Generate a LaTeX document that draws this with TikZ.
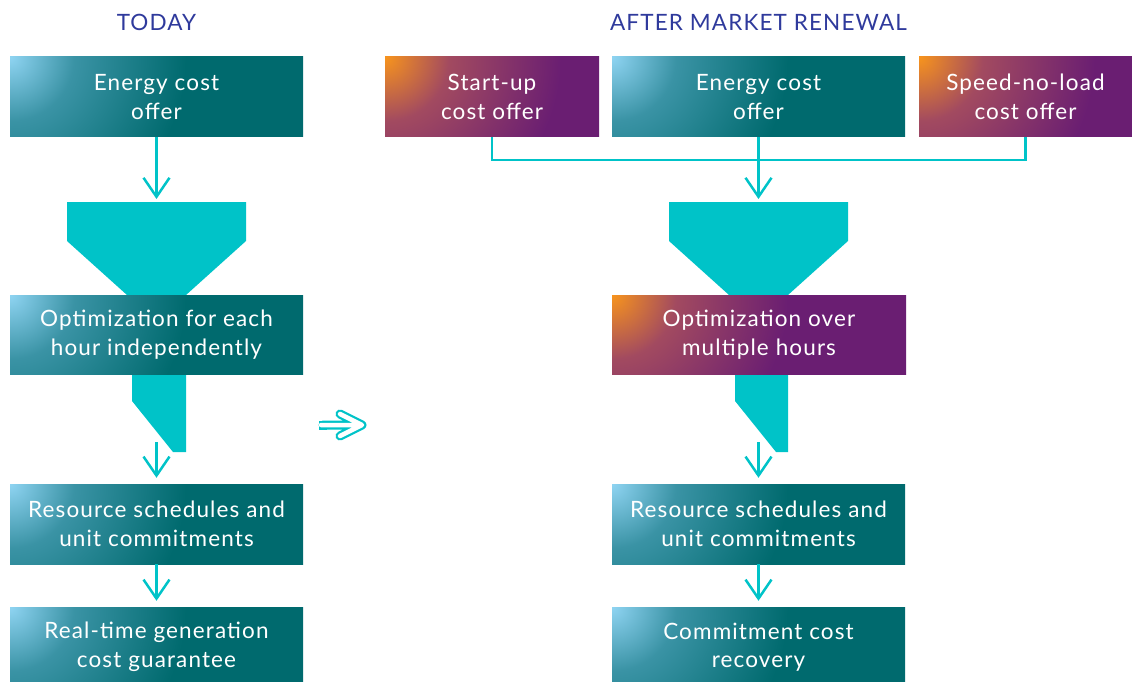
\documentclass[tikz,border=0pt]{standalone}
\usepackage{fontspec}
\setmainfont{Lato}[LetterSpace=5]
\usetikzlibrary{arrows.meta}
\definecolor{tlight}{HTML}{8FD4F2}
\definecolor{tmid}{HTML}{3A93A5}
\definecolor{tdark}{HTML}{006A6E}
\definecolor{porange}{HTML}{F7941D}
\definecolor{pmid}{HTML}{A24A60}
\definecolor{ppurple}{HTML}{6A1E72}
\definecolor{fcyan}{HTML}{00C3C8}
\definecolor{hblue}{HTML}{2F3A9C}
\pgfdeclareradialshading{tealglow}{\pgfpoint{0bp}{0bp}}{color(0bp)=(tlight); color(4bp)=(tmid); color(11bp)=(tdark); color(80bp)=(tdark)}
\pgfdeclareradialshading{purpleglow}{\pgfpoint{0bp}{0bp}}{color(0bp)=(porange); color(4bp)=(pmid); color(11bp)=(ppurple); color(80bp)=(ppurple)}
\begin{document}
\begin{tikzpicture}[x=1pt,y=-1pt,
  box/.style={rectangle, minimum height=80pt, inner sep=0pt, align=center, text=white,
    font=\fontsize{22.5}{28.5}\selectfont},
  tealbox/.style={box, minimum width=293pt, path picture={\shade[shading=tealglow] ([shift={(-400,-400)}]path picture bounding box.north west) rectangle ([shift={(400,400)}]path picture bounding box.north west);}},
  purplebox/.style={box, path picture={\shade[shading=purpleglow] ([shift={(-400,-400)}]path picture bounding box.north west) rectangle ([shift={(400,400)}]path picture bounding box.north west);}},
  hdr/.style={text=hblue, font=\fontsize{22.5}{26}\selectfont, inner sep=0pt},
  funnel/.style={fill=fcyan, draw=none},
  flow/.style={draw=fcyan, line width=2.5pt, -{Straight Barb[length=19pt,width=26pt,line width=2.5pt]}},
  link/.style={draw=fcyan, line width=2.5pt}]
\useasboundingbox (0,0) rectangle (1132,682);
% headers
\node[hdr] (today) at (156.5,22) {TODAY};
\node[hdr] (after) at (758.5,22) {AFTER MARKET RENEWAL};
% funnels (drawn behind boxes)
\fill[funnel] (67,202) -- (246,202) -- (246,241) -- (186,295) -- (186,300) -- (127,300) -- (127,295) -- (67,241) -- cycle;
\fill[funnel] (132,370) -- (186,370) -- (186,452) -- (173,452) -- (132,401) -- cycle;
\fill[funnel] (669,202) -- (848,202) -- (848,241) -- (788,295) -- (788,300) -- (729,300) -- (729,295) -- (669,241) -- cycle;
\fill[funnel] (735,370) -- (788,370) -- (788,452) -- (776,452) -- (735,401) -- cycle;
\coordinate (ftopL) at (156.5,202);
\coordinate (ftopR) at (758.5,202);
\coordinate (spoutL) at (156.5,442);
\coordinate (spoutR) at (758.5,442);
% left column
\node[tealbox] (energyL) at (156.5,97) {Energy cost\\offer};
\node[tealbox, minimum height=79pt] (optL) at (156.5,334.5) {Optimization for each\\hour independently};
\node[tealbox] (resL) at (156.5,524) {Resource schedules and\\unit commitments};
\node[tealbox] (rtL) at (156.5,647) {Real-time generation\\cost guarantee};
% right column
\node[purplebox, minimum width=214pt] (startR) at (492,97) {Start-up\\cost offer};
\node[tealbox] (energyR) at (758.5,97) {Energy cost\\offer};
\node[purplebox, minimum width=213pt] (speedR) at (1025.5,97) {Speed-no-load\\cost offer};
\node[purplebox, minimum width=294pt, minimum height=79pt] (optR) at (759,334.5) {Optimization over\\multiple hours};
\node[tealbox] (resR) at (758.5,524) {Resource schedules and\\unit commitments};
\node[tealbox] (ccR) at (758.5,647) {Commitment cost\\recovery};
% connectors
\draw[flow, shorten >=3pt] (energyL.south) -- (ftopL);
\draw[flow, shorten >=6pt] (spoutL) -- (resL.north);
\draw[flow, shorten >=6pt] (resL.south) -- (rtL.north);
\coordinate (jn) at (758.5,160);
\draw[link] (startR.south) |- (jn) -| (speedR.south);
\draw[flow, shorten >=3pt] (energyR.south) -- (ftopR);
\draw[flow, shorten >=6pt] (spoutR) -- (resR.north);
\draw[flow, shorten >=6pt] (resR.south) -- (ccR.north);
% middle transition arrow
\coordinate (mid) at (342,425);
\draw[fcyan, line width=9pt, line join=round, line cap=round] ([xshift=-19pt]mid) -- ([xshift=19pt]mid) ([xshift=-2pt,yshift=-11pt]mid) -- ([xshift=20pt]mid) -- ([xshift=-2pt,yshift=11pt]mid);
\draw[fcyan, line width=9pt] ([xshift=-23pt]mid) -- ([xshift=-15pt]mid);
\draw[white, line width=4.5pt, line join=round, line cap=round] ([xshift=-21pt]mid) -- ([xshift=19pt]mid) ([xshift=-2pt,yshift=-11pt]mid) -- ([xshift=20pt]mid) -- ([xshift=-2pt,yshift=11pt]mid);
\end{tikzpicture}
\end{document}
